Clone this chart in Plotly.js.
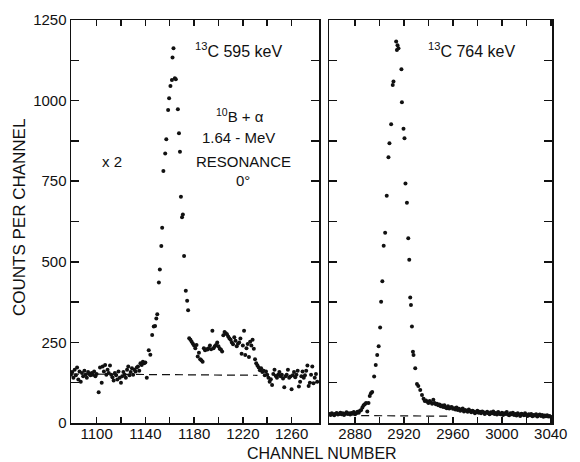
<!DOCTYPE html>
<html>
<head>
<meta charset="utf-8">
<script src="https://cdn.plot.ly/plotly-3.0.1.min.js"></script>
<style>html,body{margin:0;padding:0;background:#fff;}#chart{width:580px;height:462px;}</style>
</head>
<body>
<div id="chart"></div>
<script>
// ---- Left panel (13C 595 keV), channel numbers and counts ----
const leftChannels = [
 1079,1080,1081,1082,1083,1084,1085,1086,1087,1088,1089,1090,1091,1092,1093,1094,1095,1096,1097,1098,
 1099,1100,1101.7,1102.8,1104.2,1105,1106,1107,1108,1109,1110,1111,1112,1113,1114,1115,1116,1117,1118,1119,
 1120,1121,1122,1123,1124,1125,1126,1127,1128,1129,1130,1131,1132,1133,1134,1135,1136,1137,1138,1139,
 1140,1141.2,1142.8,1144.1,1145.6,1146.9,1148,1149,1149.8,1151.1,1151.9,1153.1,1153.8,1154.8,1156.3,1157.2,
 1158.7,1159.5,1160.6,1161.8,1162.3,1163.1,1164.2,1165,1166.7,1167.6,1168.4,1169.2,1170.1,1170.8,1171.8,
 1173.2,1174.3,1175.1,
 1176,1177,1178,1179,1180,1181,1182,1183,1184,1185,1186,1187,1188,1189,1190,1191,1192,1193,1194,1195,
 1196,1197,1198,1199,1200,1201,1202,1203,1204,1205,1206,1207,1208,1209,1210,1211,1212,1213,1214,1215,
 1216,1217,1218,1219,1220,1221,1222,1223,1224,1225,1226,1227,1228,1229,1230,1231,1232,1233,1234,1235,
 1236,1237,1238,1239,1240,1241,1242,1243,1244,1245,1246,1247,1248,1249,1250,1251,1252,1253,1254,1255,
 1256,1257,1258,1259,1260,1261,1262,1263,1264,1265,1266,1267,1268,1269,1270,1271,1272,1273,1274,1275,
 1276,1277,1278,1279,1280,1281
];
const leftCounts = [
 150,158,140,165,148,172,135,160,128,155,145,162,150,140,158,152,148,155,150,160,
 145,152,95,172,125,175,160,180,150,165,155,178,150,142,132,155,148,135,160,140,
 125,145,158,150,140,165,175,148,158,170,150,165,160,172,175,162,185,180,190,185,
 188,140,226,212,273,299,301,324,337,436,476,549,606,782,836,880,
 971,1007,1045,1064,1134,1162,1069,1066,973,899,841,702,638,647,518,
 410,379,350,
 263,258,252,246,240,232,242,206,218,198,195,190,232,226,229,228,232,240,229,286,
 232,238,242,250,238,230,228,222,272,282,278,275,268,262,258,250,244,266,255,238,
 246,250,262,215,240,286,211,232,245,205,252,240,258,230,198,185,178,172,164,170,
 158,162,148,160,150,140,128,136,118,152,165,146,140,150,158,145,150,138,111,145,
 150,165,140,144,105,148,158,142,150,162,113,128,145,160,140,148,162,178,115,125,
 150,175,123,140,152,128
];
// background (dashed) under the left peak
const leftBgChannels = [1079, 1232];
const leftBgCounts = [152, 148];

// ---- Right panel (13C 764 keV) ----
const rightChannels = [
 2859,2860,2861,2862,2863,2864,2865,2866,2867,2868,2869,2870,2871,2872,2873,2874,2875,2876,2877,2878,
 2879,2880,2881,2882,2883,2884,2885,2886,2887,2888,2889,2890,2891,2892,2893,2894,2895.6,2896.9,2898.1,2899.3,
 2900.5,2901.3,2902.3,2903.4,2904.6,2905.9,2907.3,2908.1,2909.5,2910.8,2911.4,2913.6,2914.2,2914.7,2915.5,
 2917.9,2918.3,2919.6,2920.4,2921.2,2922.4,2923.5,2924.3,2925.1,2925.7,2926.5,2927.3,2927.8,2929.2,2930.6,
 2931.7,2933.3,2934.7,
 2936,2937,2938,2939,2940,2941,2942,2943,2944,2945,2946,2947,2948,2949,2950,2951,2952,2953,2954,2955,
 2956,2957,2958,2959,2960,2961,2962,2963,2964,2965,2966,2967,2968,2969,2970,2971,2972,2973,2974,2975,
 2976,2977,2978,2979,2980,2981,2982,2983,2984,2985,2986,2987,2988,2989,2990,2991,2992,2993,2994,2995,
 2996,2997,2998,2999,3000,3001,3002,3003,3004,3005,3006,3007,3008,3009,3010,3011,3012,3013,3014,3015,
 3016,3017,3018,3019,3020,3021,3022,3023,3024,3025,3026,3027,3028,3029,3030,3031,3032,3033,3034,3035,
 3036,3037,3038,3039,3040
];
const rightCounts = [
 28,25,30,27,24,29,31,26,28,32,27,30,25,29,33,28,30,26,31,29,
 34,27,30,35,32,38,40,48,55,58,62,36,62,84,92,96,144,180,211,238,
 296,376,440,550,590,705,824,868,927,1048,1059,1183,1157,1172,1162,
 1097,995,913,883,743,683,573,506,389,366,299,221,211,170,121,
 115,102,87,
 75,68,70,66,62,68,64,60,72,62,58,60,55,57,52,54,50,55,48,46,
 52,45,48,50,44,46,42,48,40,44,38,42,45,36,40,38,35,42,37,33,
 38,36,30,34,38,32,35,30,36,33,28,32,35,30,27,33,30,36,28,31,
 26,34,29,27,32,25,30,28,34,26,24,30,27,32,25,28,23,30,26,22,
 29,27,24,30,25,22,27,24,28,21,25,23,27,20,24,26,22,25,19,23,
 21,24,20,22,19
];
const rightBgChannels = [2885, 2958];
const rightBgCounts = [23, 21];

// ---- Ticks ----
const leftTickVals = [1100,1120,1140,1160,1180,1200,1220,1240,1260];
const leftTickText = ['1100','','1140','','1180','','1220','','1260'];
const rightTickVals = [2880,2900,2920,2940,2960,2980,3000,3020,3040];
const rightTickText = ['2880','','2920','','2960','','3000','','3040'];
const yTickVals = [0,125,250,375,500,625,750,875,1000,1125,1250];
const yTickText = ['0','','250','','500','','750','','1000','','1250'];

const FONT = 'Liberation Sans, Arial, sans-serif';
const INK = '#111';

const markerStyle = {size: 4, color: INK};
const traces = [
  {x: leftChannels, y: leftCounts, type: 'scatter', mode: 'markers', marker: markerStyle, xaxis: 'x', yaxis: 'y', hoverinfo: 'skip'},
  {x: leftBgChannels, y: leftBgCounts, type: 'scatter', mode: 'lines', line: {color: INK, width: 1.2, dash: '8px,5px'}, xaxis: 'x', yaxis: 'y'},
  {x: rightChannels, y: rightCounts, type: 'scatter', mode: 'markers', marker: markerStyle, xaxis: 'x2', yaxis: 'y2', hoverinfo: 'skip'},
  {x: rightBgChannels, y: rightBgCounts, type: 'scatter', mode: 'lines', line: {color: INK, width: 1.2, dash: '8px,5px'}, xaxis: 'x2', yaxis: 'y2'}
];

const axisCommon = {
  showgrid: false, zeroline: false, showline: true, linecolor: INK, linewidth: 1.5,
  mirror: 'ticks', ticks: 'inside', tickcolor: INK, tickwidth: 1.5,
  tickfont: {family: FONT, size: 15, color: INK}, automargin: false, fixedrange: true
};

function ann(text, cx, cy, size, extra) {
  return Object.assign({text: text, xref: 'paper', yref: 'paper', x: cx/580, y: (423-cy)/403,
    xanchor: 'center', yanchor: 'middle', showarrow: false,
    font: {family: FONT, size: size, color: INK}}, extra || {});
}

const layout = {
  width: 580, height: 462,
  margin: {l: 0, r: 0, t: 20, b: 39, pad: 0},
  paper_bgcolor: '#fff', plot_bgcolor: '#fff',
  showlegend: false,
  xaxis: Object.assign({}, axisCommon, {domain: [71/580, 319/580], range: [1079, 1282.5], tickmode: 'array', tickvals: leftTickVals, ticktext: leftTickText, ticklen: 6, ticklabelstandoff: -4, anchor: 'y'}),
  yaxis: Object.assign({}, axisCommon, {domain: [0, 1], range: [0, 1250], tickmode: 'array', tickvals: yTickVals, ticktext: yTickText, ticklen: 8, anchor: 'x'}),
  xaxis2: Object.assign({}, axisCommon, {domain: [329/580, 552/580], range: [2858.7, 3041], tickmode: 'array', tickvals: rightTickVals, ticktext: rightTickText, ticklen: 6, ticklabelstandoff: -4, anchor: 'y2'}),
  yaxis2: Object.assign({}, axisCommon, {domain: [0, 1], range: [0, 1250], tickmode: 'array', tickvals: yTickVals, showticklabels: false, ticklen: 8, anchor: 'x2'}),
  annotations: [
    ann('COUNTS PER CHANNEL', 19, 218, 17, {textangle: -90}),
    ann('CHANNEL NUMBER', 322, 453, 16),
    ann('<sup>13</sup>C 595 keV', 238, 50, 16),
    ann('<sup>10</sup>B + α', 240, 115, 15),
    ann('1.64 - MeV', 238, 137, 15),
    ann('RESONANCE', 243, 161, 15),
    ann('0°', 243, 180, 15),
    ann('x 2', 112, 161, 15),
    ann('<sup>13</sup>C 764 keV', 471, 50, 16)
  ]
};

Plotly.newPlot('chart', traces, layout, {staticPlot: true, displayModeBar: false});
</script>
</body>
</html>
